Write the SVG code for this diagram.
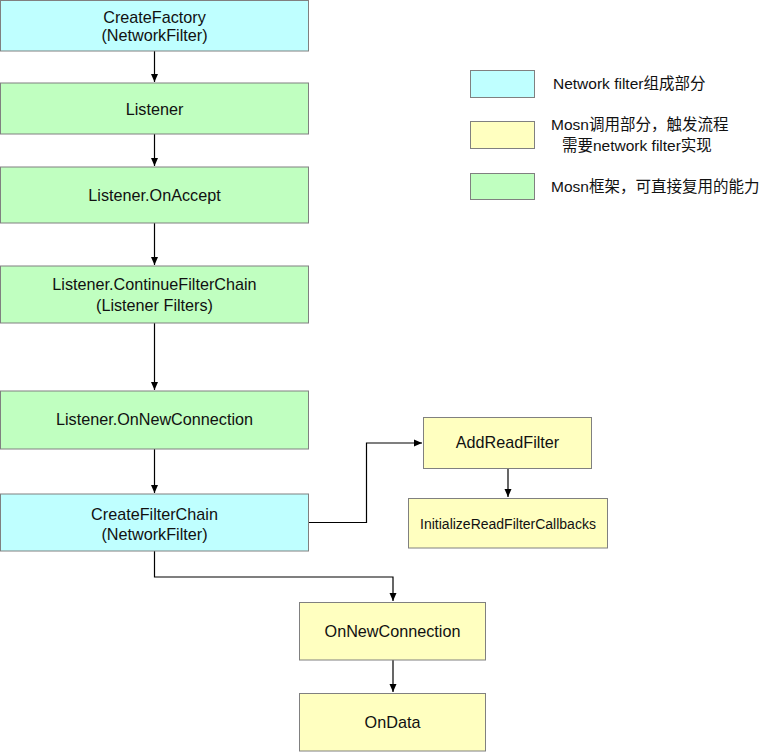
<svg xmlns="http://www.w3.org/2000/svg" width="772" height="752" viewBox="0 0 772 752">
<defs>
<marker id="arr" markerWidth="10" markerHeight="10" refX="9" refY="5" orient="auto" markerUnits="userSpaceOnUse">
<path d="M1,1.5 L9,5 L1,8.5 Z" fill="#000"/>
</marker>
<style>
.box{stroke:#808080;stroke-width:1}
.cy{fill:#BFFFFF}
.gr{fill:#C0FFC0}
.ye{fill:#FFFFC0}
text{font-family:"Liberation Sans","Noto Sans CJK SC",Arial,sans-serif;font-size:16.2px;fill:#111}
.c{text-anchor:middle}
.sm{font-size:14px}
.lg{font-size:15.5px}
.conn{fill:none;stroke:#000;stroke-width:1.2;marker-end:url(#arr)}
</style>
</defs>
<rect width="772" height="752" fill="#fff"/>
<g id="connectors">
<path class="conn" d="M154.5,51 V82"/>
<path class="conn" d="M154.5,134 V166"/>
<path class="conn" d="M154.5,223 V265"/>
<path class="conn" d="M154.5,323 V390"/>
<path class="conn" d="M154.5,449 V493"/>
<path class="conn" d="M308,522.5 H366.5 V443 H422"/>
<path class="conn" d="M508,468 V497"/>
<path class="conn" d="M154.5,551 V577 H393 V601"/>
<path class="conn" d="M393,660 V692"/>
</g>
<g id="n-createfactory">
<rect class="box cy" x="0.5" y="0.5" width="308" height="50.5"/>
<text class="c" x="154.5" y="22.5">CreateFactory</text>
<text class="c" x="154.5" y="41">(NetworkFilter)</text>
</g>
<g id="n-listener">
<rect class="box gr" x="0.5" y="83" width="308" height="51"/>
<text class="c" x="154.5" y="114.5">Listener</text>
</g>
<g id="n-onaccept">
<rect class="box gr" x="0.5" y="167" width="308" height="56"/>
<text class="c" x="154.5" y="200.5">Listener.OnAccept</text>
</g>
<g id="n-continue">
<rect class="box gr" x="0.5" y="266" width="308" height="57"/>
<text class="c" x="154.5" y="290">Listener.ContinueFilterChain</text>
<text class="c" x="154.5" y="311">(Listener Filters)</text>
</g>
<g id="n-onnewconn-listener">
<rect class="box gr" x="0.5" y="391" width="308" height="58"/>
<text class="c" x="154.5" y="425">Listener.OnNewConnection</text>
</g>
<g id="n-createfilterchain">
<rect class="box cy" x="0.5" y="494" width="308" height="57"/>
<text class="c" x="154.5" y="520">CreateFilterChain</text>
<text class="c" x="154.5" y="540">(NetworkFilter)</text>
</g>
<g id="n-addreadfilter">
<rect class="box ye" x="423.5" y="417.5" width="168" height="51"/>
<text class="c" x="507.5" y="448">AddReadFilter</text>
</g>
<g id="n-initcallbacks">
<rect class="box ye" x="408.5" y="498.5" width="199" height="49.5"/>
<text class="c sm" x="508" y="529">InitializeReadFilterCallbacks</text>
</g>
<g id="n-onnewconnection">
<rect class="box ye" x="299.5" y="602.5" width="186" height="57.5"/>
<text class="c" x="392.5" y="637">OnNewConnection</text>
</g>
<g id="n-ondata">
<rect class="box ye" x="299.5" y="693.5" width="186" height="57.5"/>
<text class="c" x="392.5" y="728">OnData</text>
</g>
<g id="legend">
<rect class="box cy" x="470.5" y="70.5" width="64" height="27"/>
<text class="lg" x="553" y="89">Network filter组成部分</text>
<rect class="box ye" x="470.5" y="121.5" width="64" height="27"/>
<text class="lg" x="551" y="130">Mosn调用部分，触发流程</text>
<text class="lg" x="562" y="151">需要network filter实现</text>
<rect class="box gr" x="470.5" y="173.5" width="64" height="26"/>
<text class="lg" x="551" y="192">Mosn框架，可直接复用的能力</text>
</g>
</svg>
